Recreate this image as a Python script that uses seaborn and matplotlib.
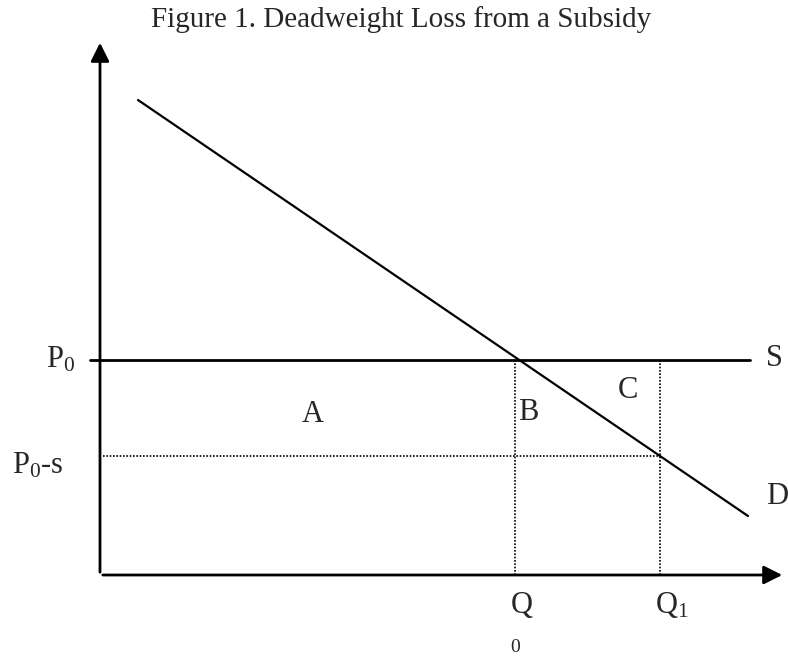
import numpy as np
import pandas as pd
import matplotlib
matplotlib.use("Agg")
import matplotlib.pyplot as plt
import seaborn as sns

# Values (units: quantity / price)
demand_q = [3.8, 64.8]
demand_p = [47.5, 5.9]
supply_q = [-1.0, 65.0]
p0 = 21.5
p0_minus_s = 11.9
q0 = 41.5
q1 = 56.0
area_labels = ["A", "B", "C"]
area_q = [21.3, 42.8, 52.8]
area_p = [16.0, 16.3, 18.5]

sns.set_style("white")
plt.rcParams["font.family"] = ["Liberation Serif", "DejaVu Serif"]
plt.rcParams["mathtext.fontset"] = "custom"
plt.rcParams["mathtext.rm"] = "Liberation Serif"
plt.rcParams["mathtext.it"] = "Liberation Serif:italic"

fig = plt.figure(figsize=(7.88, 6.58), dpi=100)
ax = fig.add_axes([0, 0, 1, 1])
ax.set_xlim(-10, 68.8)
ax.set_ylim(-8.3, 57.5)
ax.axis("off")

# ==================================================
# Demand and supply
# ==================================================
demand = pd.DataFrame({"q": demand_q, "p": demand_p})
sns.lineplot(data=demand, x="q", y="p", color="black", lw=1.6, ax=ax)

supply = pd.DataFrame({"q": supply_q, "p": [p0, p0]})
sns.lineplot(data=supply, x="q", y="p", color="black", lw=2, ax=ax)

# subsidised price line
ax.plot([0.3, q1], [p0_minus_s, p0_minus_s], color="black", lw=1.2, ls=(0, (1, 1)))

# quantity drop lines
for q in [q0, q1]:
    ax.plot([q, q], [0, p0], color="black", lw=1.2, ls=(0, (1, 1)))

# ==================================================
# Axes with arrows
# ==================================================
ax.annotate("", xy=(0, 53.5), xytext=(0, 0),
            arrowprops=dict(arrowstyle="-|>", lw=2, color="black", mutation_scale=28))
ax.annotate("", xy=(68.5, 0), xytext=(0, 0),
            arrowprops=dict(arrowstyle="-|>", lw=2, color="black", mutation_scale=28))

# ==================================================
# Labels
# ==================================================
fs = 22
ax.text(-2.5, p0, r"P$_\mathrm{0}$", fontsize=fs, ha="right", va="center")
ax.text(-3.6, p0_minus_s - 1.0, r"P$_\mathrm{0}$-s", fontsize=fs, ha="right", va="center")
ax.text(66.6, p0 + 0.2, "S", fontsize=fs, ha="left", va="center")
ax.text(66.6, 7.9, "D", fontsize=fs, ha="left", va="center")
for lab, x, y in zip(area_labels, area_q, area_p):
    ax.text(x, y, lab, fontsize=fs, ha="center", va="center")
ax.text(q0 + 0.7, -3.0, "Q", fontsize=fs, ha="center", va="center")
ax.text(q1 + 1.2, -3.0, r"Q$_\mathrm{1}$", fontsize=fs, ha="center", va="center")
ax.text(q0, -7.2, "0", fontsize=14, ha="center", va="center")

ax.text(30.1, 55.5, "Figure 1. Deadweight Loss from a Subsidy", fontsize=21,
        ha="center", va="center")

fig.savefig("out.png", dpi=100)
